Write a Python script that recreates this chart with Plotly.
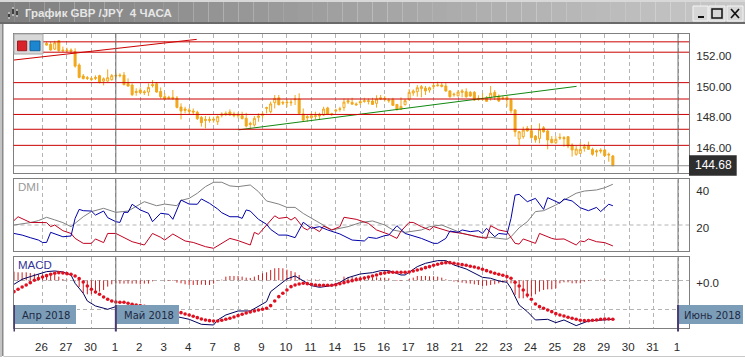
import plotly.graph_objects as go

W, H = 745, 360
title_text = "График GBP /JPY\u00a0\u00a04 ЧАСА"

# ---- data -------------------------------------------------------------
day_labels = ["26","27","30","1","2","3","4","7","8","9","10","11","14","15","16","17","18",
              "21","22","23","24","25","28","29","30","31","1"]
day_ticks = [k * 6 for k in range(len(day_labels))]
price_ticks = [146, 148, 150, 152]
dmi_ticks = [20, 40]
dmi_grid_level = 20
macd_ticks = [0, -0.87]
macd_tick_text = ["+0.0", ""]
month_labels = ["Апр 2018", "Май 2018", "Июнь 2018"]
month_bars = [-7, 18, 156]
last_price = 144.68
levels = [152.7, 152.03, 150.06, 149.0, 148.0, 147.04, 146.0]
red_trend_x = [-7.1, 37.85]
red_trend_y = [151.52, 152.86]
green_trend_x = [48.06, 131.1]
green_trend_y = [147.0, 149.82]

bars = list(range(1, 141))
opens = [152.60,152.54,152.23,152.77,152.17,152.17,152.17,152.06,151.20,150.49,
150.38,150.32,150.40,150.51,150.16,150.16,150.25,150.53,150.55,150.55,
150.01,149.90,149.49,149.58,149.47,149.45,149.93,149.99,149.49,149.15,
149.11,149.11,149.06,148.48,148.35,148.29,148.22,148.14,147.81,147.68,
147.68,147.70,147.53,148.03,148.07,148.16,148.03,147.98,147.92,147.75,
147.42,147.32,147.81,147.94,148.39,148.18,148.76,149.08,148.78,148.80,
148.80,149.00,149.00,148.03,147.86,147.79,147.92,148.01,147.96,148.42,
148.05,148.29,148.37,148.44,148.89,148.78,148.68,148.83,148.89,148.89,
148.87,148.72,149.08,149.04,148.93,148.96,148.65,148.33,148.63,148.98,
149.39,149.47,149.67,149.71,149.58,149.80,149.86,149.90,149.84,149.52,
149.32,149.21,149.43,149.47,149.43,149.43,149.04,149.04,149.08,149.08,
149.43,149.19,149.08,149.11,148.93,148.29,146.41,146.56,147.10,146.95,
146.60,146.45,147.14,146.93,146.39,146.17,146.52,146.50,146.56,146.02,
145.42,145.48,145.91,145.98,145.74,145.65,145.70,145.70,145.42,145.31]
highs = [152.71,152.71,152.77,152.82,152.39,152.32,152.28,152.28,151.31,150.62,
150.49,150.44,150.53,150.57,150.40,150.92,150.62,150.70,150.66,150.75,
150.34,150.01,149.69,149.75,149.58,150.01,150.23,150.10,149.75,149.37,
149.21,149.58,149.19,148.72,148.50,148.42,148.39,148.24,147.90,147.90,
147.86,147.86,147.94,148.14,148.20,148.33,148.18,148.14,148.18,148.11,
147.53,147.90,148.07,148.18,148.50,148.83,149.26,149.26,148.89,148.98,
148.98,149.26,149.37,148.39,147.96,148.11,148.18,148.11,148.50,148.50,
148.11,148.37,148.50,149.04,149.04,149.08,148.78,148.93,149.08,149.04,
149.08,149.24,149.26,149.19,149.04,149.08,148.67,149.11,149.00,149.64,
149.62,149.90,149.90,149.84,149.80,150.08,150.12,150.08,150.08,149.58,
149.41,149.58,149.64,149.69,149.52,149.52,149.24,149.37,149.19,149.84,
149.58,149.30,149.19,149.19,149.04,148.33,146.93,147.21,147.25,147.32,
146.67,147.42,147.25,146.99,146.60,146.60,146.78,146.60,146.60,146.13,
145.96,146.17,146.09,146.24,145.85,145.74,145.81,145.76,145.53,145.38]
lows = [152.45,152.13,152.17,152.06,152.02,152.02,151.95,151.03,150.34,150.27,
150.23,150.16,150.23,150.01,149.88,150.12,150.19,150.34,150.40,149.88,
149.80,149.19,149.21,149.30,149.26,149.19,149.75,149.41,149.02,148.93,
148.98,148.93,148.39,147.68,148.07,148.03,147.96,147.64,147.21,147.10,
147.47,147.47,147.32,147.81,147.90,147.90,147.81,147.75,147.68,147.16,
147.10,147.21,147.53,147.75,148.07,148.07,148.39,148.59,148.61,148.46,
148.55,148.61,148.03,147.53,147.53,147.68,147.68,147.64,147.90,147.96,
147.90,148.14,148.18,148.24,148.67,148.61,148.55,148.61,148.76,148.65,
148.61,148.44,148.93,148.83,148.76,148.55,148.24,148.29,148.59,148.89,
149.21,149.15,149.11,149.26,149.41,149.62,149.80,149.75,149.47,149.08,
149.15,149.15,149.11,149.08,149.15,148.87,148.89,148.89,148.83,148.89,
148.93,148.80,148.98,148.50,148.07,146.56,146.02,146.43,146.89,146.43,
146.17,146.13,146.82,145.74,146.13,146.09,146.35,145.91,145.81,145.27,
145.33,145.44,145.59,145.70,145.33,145.27,145.48,145.27,144.94,144.66]
closes = [152.49,152.17,152.64,152.13,152.13,152.13,152.10,151.13,150.40,150.32,
150.34,150.27,150.34,150.10,150.31,150.38,150.51,150.49,150.51,149.93,
149.84,149.28,149.43,149.41,149.41,149.75,149.88,149.45,149.15,149.00,
149.04,149.04,148.46,148.22,148.27,148.20,148.16,147.73,147.47,147.62,
147.62,147.64,147.86,147.96,148.03,147.98,147.92,147.92,147.73,147.25,
147.36,147.75,147.90,148.03,148.44,148.68,149.04,148.63,148.74,148.76,
148.76,148.96,148.07,147.64,147.79,147.92,147.88,147.90,148.35,148.01,
148.01,148.24,148.33,148.80,148.80,148.67,148.63,148.76,148.85,148.85,
148.65,149.00,149.00,149.00,148.89,148.59,148.33,148.52,148.89,149.43,
149.52,149.73,149.80,149.52,149.73,149.86,149.90,149.82,149.52,149.15,
149.28,149.45,149.52,149.15,149.19,148.93,148.98,149.00,148.85,149.37,
149.15,148.87,149.02,148.98,148.24,146.88,146.88,146.99,146.93,146.50,
146.35,147.04,146.88,146.35,146.17,146.39,146.48,146.43,145.96,145.70,
145.76,145.74,145.81,145.74,145.42,145.57,145.63,145.33,145.38,144.68]

adx_x = [-7,-5,-3,-1,1,3,5,7,8,10,12,15,18,21,25,28,30,33,34,36,38,40,42,44,46,48,51,53,55,58,60,62,64,66,68,71,75,78,81,84,86,89,93,95,98,100,103,107,110,112,114,115,117,119,121,123,126,128,131,133,136,138,140]
adx_y = [20.0,20.6,21.3,22.4,24.2,22.8,21.3,19.1,20.9,24.5,27.3,29.1,26.9,27.6,32.7,30.5,31.4,30.5,33.4,34.5,37.3,40.9,43.3,43.3,41.3,40.9,41.8,38.2,33.1,31.4,29.6,29.6,26.3,23.6,20.9,17.3,19.1,21.3,22.2,20.0,17.3,16.0,17.3,19.1,20.0,18.2,15.5,13.3,13.3,12.7,12.2,13.6,18.5,21.8,27.3,27.8,30.9,33.6,37.3,38.5,39.1,40.3,42.2]
plus_x = [-7,-5,-3,-1,0,1,2,4,5,7,8,9,10,12,13,15,16,18,19,20,21,22,24,26,27,29,31,32,34,36,38,39,41,43,44,46,48,49,50,51,53,55,56,58,60,62,64,66,68,70,73,76,79,80,82,84,85,87,89,93,96,97,99,100,102,103,105,107,108,109,110,111,112,114,115,116,117,119,121,123,124,127,128,130,132,134,136,137,139,140]
plus_y = [15.4,14.5,13.1,11.8,10.5,10.5,16.0,14.5,13.6,14.0,23.6,28.5,27.8,27.6,25.4,27.6,24.0,21.8,21.4,26.9,26.9,31.3,28.2,26.4,21.8,26.4,25.8,23.1,33.6,31.4,31.3,34.2,31.8,28.7,26.7,24.5,24.5,23.6,28.2,27.6,23.1,20.4,17.6,14.5,14.5,13.1,21.5,18.2,19.1,17.3,15.1,11.8,11.3,13.3,12.7,14.2,14.5,19.6,15.4,12.7,10.0,10.0,12.7,16.7,16.0,17.3,16.4,16.9,15.4,18.2,16.0,13.6,15.4,14.9,23.6,36.3,36.7,32.7,34.5,28.5,34.9,31.8,34.2,33.1,29.4,27.8,29.6,27.3,31.3,30.5]
minus_x = [-7,-6,-3,1,2,3,5,7,8,10,12,13,15,16,18,22,25,27,29,30,32,35,37,40,42,44,46,48,51,52,53,57,58,60,61,62,64,65,66,68,69,71,73,74,77,80,82,85,87,88,90,91,93,95,96,100,103,107,109,110,112,114,116,117,118,121,122,125,126,128,131,132,133,134,136,138,140]
minus_y = [22.4,24.5,21.4,21.3,19.1,20.0,16.9,15.4,12.7,10.0,10.0,12.4,10.4,15.4,15.4,10.9,9.1,15.4,13.3,11.8,15.1,11.3,10.5,8.2,7.3,10.0,12.7,11.5,9.1,16.0,14.9,25.0,23.6,24.2,22.7,24.2,18.5,17.3,19.1,16.4,19.4,17.3,19.1,24.2,23.1,20.9,17.3,14.9,12.7,16.7,21.4,21.4,19.1,17.3,19.1,16.4,15.4,13.6,12.7,19.6,17.3,16.4,10.0,9.6,12.4,10.0,15.4,12.7,12.2,12.4,9.1,11.3,10.9,12.4,10.9,10.4,8.6]

macd_x = [-7,-5,-3,-1,1,3,5,7,8,10,11,13,16,18,22,26,30,33,36,39,42,43,45,48,51,53,55,56,58,60,62,64,66,68,71,73,75,78,81,83,85,88,89,92,94,97,99,101,104,108,110,112,114,115,117,119,121,124,126,128,131,134,136,140]
macd_y = [-0.12,0.03,0.11,0.19,0.26,0.28,0.25,0.16,-0.09,-0.39,-0.62,-0.77,-0.87,-0.79,-0.92,-0.99,-1.04,-1.09,-1.17,-1.32,-1.34,-1.19,-1.04,-0.92,-0.92,-0.79,-0.64,-0.34,-0.14,0.04,0.13,-0.02,-0.16,-0.21,-0.16,-0.06,0.08,0.19,0.23,0.29,0.29,0.16,0.16,0.41,0.51,0.59,0.59,0.46,0.34,0.09,0.06,-0.02,-0.06,-0.24,-0.74,-0.94,-1.19,-1.17,-1.27,-1.19,-1.36,-1.22,-1.20,-1.17]
macd_bars = list(range(-7, 141))
signal = [-.34,-.27,-.20,-.14,-.07,0,.05,.10,.14,.18,.21,.23,.22,.20,.18,.13,.05,-.05,-.17,-.27,-.35,-.42,-.50,-.57,-.62,-.65,-.66,-.66,-.69,-.72,-.74,-.76,-.78,-.80,-.82,-.84,-.86,-.88,-.90,-.92,-.94,-.97,-1.01,-1.04,-1.08,-1.12,-1.16,-1.19,-1.21,-1.22,-1.22,-1.20,-1.17,-1.14,-1.10,-1.06,-1.02,-.98,-.95,-.92,-.89,-.87,-.84,-.76,-.62,-.49,-.39,-.29,-.19,-.14,-.11,-.09,-.10,-.12,-.14,-.15,-.15,-.15,-.15,-.13,-.10,-.07,-.04,-.01,.02,.04,.07,.10,.13,.16,.20,.22,.24,.24,.24,.24,.24,.25,.28,.31,.34,.38,.41,.45,.48,.51,.53,.53,.51,.49,.47,.45,.42,.40,.37,.33,.29,.25,.21,.18,.15,.11,.06,-.06,-.17,-.29,-.44,-.57,-.71,-.79,-.84,-.89,-.94,-1.00,-1.04,-1.07,-1.11,-1.14,-1.17,-1.20,-1.21,-1.21,-1.20,-1.19,-1.17,-1.16,-1.16,-1.17]
hist = [.26,.24,.24,.24,.22,.20,.18,.18,.18,.18,.16,.11,.04,.02,0,-.03,-.20,-.39,-.42,-.42,-.39,-.34,-.29,-.19,-.12,-.09,-.10,-.10,-.10,-.10,-.10,-.12,-.10,-.10,-.03,0,0,-.01,-.02,-.02,-.07,-.09,-.12,-.14,-.14,-.14,-.13,-.14,-.14,-.10,-.01,.02,.11,.13,.13,.13,.11,.08,.07,.11,.16,.21,.24,.31,.36,.37,.36,.32,.28,.24,.16,0,.02,.02,.02,.02,0,0,0,0,0,.11,.10,.10,.10,.12,.12,.11,.09,.09,.08,.08,.06,0,-.02,-.02,0,.04,.08,.13,.13,.13,.12,.12,.11,.08,.03,0,-.04,-.06,-.07,-.09,-.10,-.12,-.14,-.17,-.16,-.14,-.12,-.09,-.07,-.06,-.09,-.44,-.54,-.54,-.52,-.49,-.42,-.34,-.29,-.27,-.27,-.24,-.09,-.06,-.06,-.09,-.09,-.09,-.04,-.02,0,0,.02,.02,0,0]

# ---- helpers ----------------------------------------------------------
def px(x): return x / W
def py(y): return 1 - y / H
def dom(top, bottom): return [py(bottom), py(top)]

GOLD = "#F2A71B"
RED = "#CC0000"
GRID = "#B4B4B4"
BORDER = "#7F7F7F"
FONT = "Liberation Sans"
XR = [-7.12, 158.69]

fig = go.Figure()
fig.add_trace(go.Candlestick(x=bars, open=opens, high=highs, low=lows, close=closes,
    increasing=dict(line=dict(color=GOLD, width=1), fillcolor="#FFFFFF"),
    decreasing=dict(line=dict(color=GOLD, width=1), fillcolor=GOLD),
    whiskerwidth=0, showlegend=False, xaxis="x", yaxis="y"))
fig.add_trace(go.Scatter(x=red_trend_x, y=red_trend_y, mode="lines",
    line=dict(color=RED, width=1), xaxis="x", yaxis="y"))
fig.add_trace(go.Scatter(x=green_trend_x, y=green_trend_y, mode="lines",
    line=dict(color="#118811", width=1), xaxis="x", yaxis="y"))

fig.add_trace(go.Scatter(x=adx_x, y=adx_y, mode="lines", line=dict(color="#808080", width=1), xaxis="x2", yaxis="y2"))
fig.add_trace(go.Scatter(x=minus_x, y=minus_y, mode="lines", line=dict(color="#C00020", width=1), xaxis="x2", yaxis="y2"))
fig.add_trace(go.Scatter(x=plus_x, y=plus_y, mode="lines", line=dict(color="#0000A8", width=1), xaxis="x2", yaxis="y2"))

# histogram drawn as thin stems from zero, one per bar
stem_x, stem_y = [], []
for b, h in zip(macd_bars, hist):
    stem_x += [b, b, None]
    stem_y += [0, h, None]
fig.add_trace(go.Scatter(x=stem_x, y=stem_y, mode="lines", line=dict(color="#CC1F1F", width=1), xaxis="x3", yaxis="y3"))
fig.add_trace(go.Scatter(x=macd_x, y=macd_y, mode="lines", line=dict(color="#000060", width=1), xaxis="x3", yaxis="y3"))
fig.add_trace(go.Scatter(x=macd_bars, y=signal, mode="markers", marker=dict(color="#E01020", size=3.6), xaxis="x3", yaxis="y3"))

common_x = dict(range=XR, tickmode="array", tickvals=day_ticks, showgrid=True, gridcolor=GRID,
                griddash="4px,3px", gridwidth=1, zeroline=False, showline=True, linecolor=BORDER,
                linewidth=1, mirror=True, domain=[px(13.5), px(689)], ticks="")
common_y = dict(side="right", zeroline=False, showline=True, linecolor=BORDER, linewidth=1, mirror=True,
                tickmode="array", ticks="", ticklabelshift=3, ticklabelstandoff=4,
                tickfont=dict(family=FONT, size=11.5, color="#2A2A2A"))

fig.update_layout(
    width=W, height=H, margin=dict(l=0, r=0, t=0, b=0), paper_bgcolor="#FFFFFF", plot_bgcolor="#FFFFFF",
    showlegend=False,
    xaxis=dict(common_x, anchor="y", showticklabels=False, rangeslider=dict(visible=False)),
    xaxis2=dict(common_x, anchor="y2", matches="x", showticklabels=False),
    xaxis3=dict(common_x, anchor="y3", matches="x", showticklabels=True, ticktext=day_labels,
                ticklabelstandoff=8, ticklabelshift=-1, tickfont=dict(family=FONT, size=11.5, color="#2A2A2A")),
    yaxis=dict(common_y, domain=dom(33.5, 173), range=[144.21, 153.24], anchor="x",
               tickvals=price_ticks, tickformat=".2f", showgrid=False),
    yaxis2=dict(common_y, domain=dom(179.3, 251.3), range=[5.67, 44.9], anchor="x2",
                tickvals=dmi_ticks, showgrid=False),
    yaxis3=dict(common_y, domain=dom(257.3, 328.3), range=[-1.44, 0.69], anchor="x3",
                tickvals=macd_ticks, ticktext=macd_tick_text, showgrid=True, gridcolor=GRID, griddash="4px,3px"),
)

shapes = []
ann = []
def rect(x0, y0, x1, y1, fill, line=None, lw=1):
    shapes.append(dict(type="rect", xref="paper", yref="paper", x0=px(x0), x1=px(x1), y0=py(y0), y1=py(y1),
                       fillcolor=fill, line=dict(color=line or fill, width=lw if line else 0), layer="above"))
def seg(x0, y0, x1, y1, color, lw=1):
    shapes.append(dict(type="line", xref="paper", yref="paper", x0=px(x0), x1=px(x1), y0=py(y0), y1=py(y1),
                       line=dict(color=color, width=lw), layer="above"))
def text(x, y, s, size=11, color="#222", family=FONT, anchor="left", bold=False):
    ann.append(dict(xref="paper", yref="paper", x=px(x), y=py(y), text=f"<b>{s}</b>" if bold else s, showarrow=False,
                    xanchor=anchor, yanchor="middle", font=dict(family=family, size=size, color=color)))

# horizontal levels and month separators
shapes.append(dict(type="line", xref="x2 domain", yref="y2", x0=0, x1=1, y0=dmi_grid_level, y1=dmi_grid_level,
                   line=dict(color=GRID, width=1, dash="4px,3px"), layer="below"))
for lv in levels:
    shapes.append(dict(type="line", xref="x domain", yref="y", x0=0, x1=1, y0=lv, y1=lv,
                       line=dict(color=RED, width=1), layer="above"))
shapes.append(dict(type="line", xref="x domain", yref="y", x0=0, x1=1, y0=last_price, y1=last_price,
                   line=dict(color="#8C8C8C", width=1), layer="above"))
for m in month_bars[1:]:
    for xr, yr in (("x", "y domain"), ("x2", "y2 domain"), ("x3", "y3 domain")):
        shapes.append(dict(type="line", xref=xr, yref=yr, x0=m, x1=m, y0=0, y1=1,
                           line=dict(color="#6E6E6E", width=1), layer="above"))

# window frame
rect(0, 0, 745, 2, "#D8D8D8")
n = 50
for k in range(n):
    t = k / (n - 1)
    c = int(128 + t * (200 - 128))
    rect(k * 745 / n, 2, (k + 1) * 745 / n, 22, f"rgb({c},{c},{c})")
rect(0, 22, 745, 24, "#6A6A6A")
rect(0, 24, 2, 360, "#C4C4C4")
rect(2, 24, 3.5, 356, "#8A8A8A")
rect(3.5, 356, 745, 357, "#C8C8C8")
rect(0, 357, 745, 360, "#FFFFFF")

# window icon
for xx, y0, y1 in [(9, 12, 19), (13, 7, 16), (17, 9, 17)]:
    seg(xx, y0, xx, y1, "#E8E8E8")
    rect(xx - 1, y0 + 2, xx + 1, y1 - 2, "#404040")
text(23, 13, title_text, size=11.5, color="#E6E6E6", bold=True)

# window buttons
for x0, x1 in [(693, 708), (709, 725), (727, 743)]:
    rect(x0, 6, x1, 21, "#D6D6D6", "#F4F4F4")
rect(698, 16, 704, 18, "#111111")
shapes.append(dict(type="rect", xref="paper", yref="paper", x0=px(712), x1=px(722), y0=py(9), y1=py(18),
                   line=dict(color="#111111", width=1.5), layer="above"))
seg(731, 9, 739, 18, "#111111", 1.7)
seg(739, 9, 731, 18, "#111111", 1.7)

# chart buttons
rect(14, 34, 43, 54, "#D8D8D8", "#A8A8A8")
rect(17.5, 41, 26.7, 50.7, "#D8232A", "#A01A20")
rect(30, 41, 40, 50.7, "#1C86D0", "#14609A")

# price tag
rect(689, 155.3, 736.7, 175.7, "#2E2E2E")
text(713, 165, f"{last_price:.2f}", size=12, color="#FFFFFF", anchor="center")

# panel captions
text(16, 187, "DMI", size=11.5, color="#999999")
text(16, 265, "MACD", size=11.5, color="#333399")

# month tags
box_right = [76, 179, 743]
for lab, b, xr, xl in zip(month_labels, month_bars, box_right, [14, 116, 679]):
    rect(xl, 305, xr, 324, "#7C9DB8")
    shapes.append(dict(type="line", xref="x", yref="paper", x0=b, x1=b, y0=py(305), y1=py(331.5),
                       line=dict(color="#4A3C72", width=2), layer="above"))
    text((xl + xr) / 2 + 1, 315, lab, size=10, color="#1C2A44", family="DejaVu Sans", anchor="center")

fig.update_layout(shapes=shapes, annotations=ann)
fig.write_html("out.html", config={"displayModeBar": False}, post_script="document.body.style.margin='0';")
